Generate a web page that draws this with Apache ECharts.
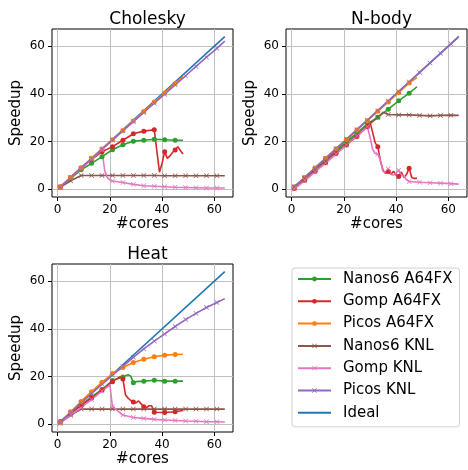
<!DOCTYPE html>
<html>
<head>
    <meta charset="UTF-8">
    <title>Speedup</title>
    <style>
        * {
            margin: 0;
            padding: 0
        }

        #chart {
            width: 468px;
            height: 470px;
        }
    </style>
</head>
<body>
<div id="chart"></div>
<script type="text/javascript" src="https://cdn.jsdelivr.net/npm/echarts@6/dist/echarts.min.js"></script>
<script type="text/javascript">
    // series names, legend order
    var names = ['Nanos6 A64FX', 'Gomp A64FX', 'Picos A64FX', 'Nanos6 KNL', 'Gomp KNL', 'Picos KNL', 'Ideal'];
    var panelTitles = ['Cholesky', 'N-body', 'Heat'];
    var tickValues = [0, 20, 40, 60];

    // [cores, speedup]
    var ideal = [[1, 1], [64, 64]];

    // Cholesky
    var chNanosA = [[1, 1], [5, 4.6], [9, 8.2], [13, 10.9], [17, 13.7], [21, 16.6], [25, 18.7], [29, 20.2], [33, 20.6], [37, 21], [41, 20.8], [45, 20.6], [48, 20.6]];
    var chGompA = [[1, 1], [5, 5], [9, 9], [13, 12.5], [17, 15.8], [21, 17.9], [25, 20.6], [29, 23.3], [33, 24.4], [37, 25], [38, 16], [39, 7.2], [40, 11], [41, 15.8], [42, 13], [43, 14], [44, 15.5], [45, 16.5], [46, 17.9], [47, 16.3], [48, 14.8]];
    var chPicosA = [[1, 1], [5, 5], [9, 9], [13, 13], [17, 16.9], [21, 20.8], [25, 24.7], [29, 28.7], [33, 32.6], [37, 36.6], [41, 40.4], [45, 44.4], [48, 47.2]];
    var chNanosK = [[1, 0.9], [5, 3.6], [9, 5.8], [13, 5.8], [17, 5.8], [21, 5.8], [25, 5.8], [29, 5.8], [33, 5.8], [37, 5.8], [41, 5.7], [45, 5.7], [49, 5.7], [53, 5.7], [57, 5.7], [61, 5.7], [64, 5.7]];
    var chGompK = [[1, 1], [5, 4.9], [9, 8.8], [13, 12.6], [17, 16.5], [18, 8], [19, 5], [20, 4], [21, 3.5], [25, 2.9], [29, 2.1], [33, 1.5], [37, 1.3], [41, 1.1], [45, 0.9], [49, 0.8], [53, 0.7], [57, 0.6], [61, 0.6], [64, 0.6]];
    var chPicosK = [[1, 1], [5, 5], [9, 9], [13, 12.9], [17, 16.8], [21, 20.6], [25, 24.5], [29, 28.4], [33, 32.2], [37, 36.1], [41, 39.9], [45, 43.8], [49, 47.6], [53, 51.5], [57, 55.4], [61, 59.1], [64, 62.1]];

    // N-body
    var nbNanosA = [[1, 1], [5, 4.8], [9, 8.6], [13, 12.4], [17, 16.2], [21, 20], [25, 23.7], [29, 27.4], [33, 30.2], [37, 33.6], [41, 37.1], [45, 40.3], [48, 43]];
    var nbGompA = [[1, 0.4], [5, 3.8], [9, 7.6], [13, 11.2], [17, 15], [21, 18.6], [25, 22.2], [29, 26.3], [30, 28.3], [31, 24], [32, 19.5], [33, 17.9], [34, 12], [35, 8], [36, 6.7], [37, 7.5], [38, 6.2], [39, 7.6], [40, 6], [41, 5.4], [42, 7.2], [43, 5], [44, 6.3], [45, 8.9], [46, 5], [47, 4.6], [48, 4.6]];
    var nbPicosA = [[1, 1], [5, 5], [9, 9], [13, 13], [17, 17], [21, 20.9], [25, 24.9], [29, 28.8], [33, 32.7], [37, 36.6], [41, 40.5], [45, 44.6], [48, 46.8]];
    var nbNanosK = [[1, 1], [5, 4.6], [9, 8.3], [13, 12], [17, 15.6], [21, 19.2], [25, 22.9], [29, 26.6], [33, 30.2], [35, 32.3], [37, 31.4], [41, 31.2], [45, 31.2], [49, 31], [53, 30.8], [57, 31], [61, 31.1], [64, 31]];
    var nbGompK = [[1, 0.2], [5, 3.6], [9, 7.4], [13, 11], [17, 14.8], [21, 18.6], [25, 22.4], [29, 26.2], [30, 22], [31, 16.8], [32, 15], [33, 14.8], [34, 12], [35, 7.5], [36, 7.2], [37, 8.6], [38, 6.2], [39, 6], [40, 6.8], [41, 8], [42, 6], [43, 5.5], [44, 4], [45, 3.3], [49, 3], [53, 2.8], [57, 2.6], [61, 2.4], [64, 2.2]];
    var nbPicosK = [[1, 1], [5, 5], [9, 9], [13, 13], [17, 17], [21, 21], [25, 25], [29, 29], [33, 33], [37, 37], [41, 41], [45, 45], [49, 49], [53, 53], [57, 57], [61, 61], [64, 64]];

    // Heat
    var htNanosA = [[1, 1.2], [5, 5], [9, 8.2], [13, 11.5], [17, 14.6], [21, 18.4], [25, 19.9], [26, 20.4], [27, 20.8], [28, 20.2], [29, 17.4], [30, 17.9], [33, 18.1], [37, 18.5], [41, 18.1], [45, 18.1], [48, 18.1]];
    var htGompA = [[1, 0.8], [5, 4.5], [9, 8], [13, 11], [17, 14.4], [21, 17.9], [24, 20], [25, 19], [26, 12.3], [27, 11], [28, 10], [29, 9.4], [30, 9], [31, 9.8], [32, 8.6], [33, 7.4], [34, 7], [35, 7.8], [36, 7.8], [37, 5.1], [41, 5], [45, 5.3], [48, 5.8]];
    var htPicosA = [[1, 0.8], [5, 5.3], [9, 9.6], [13, 13.7], [17, 17.6], [21, 21.3], [25, 23.8], [29, 25.9], [33, 27.3], [37, 28.3], [41, 29], [45, 29.3], [48, 29.4]];
    var htNanosK = [[1, 0.6], [5, 3.8], [9, 6.4], [13, 6.4], [17, 6.4], [21, 6.4], [25, 6.4], [29, 6.4], [33, 6.4], [37, 6.4], [41, 6.4], [45, 6.4], [49, 6.4], [53, 6.4], [57, 6.4], [61, 6.4], [64, 6.4]];
    var htGompK = [[1, 0.5], [5, 3.9], [9, 7], [13, 10.4], [17, 14], [20, 16.5], [21, 7.4], [25, 3.9], [29, 2.9], [33, 2.5], [37, 2.1], [41, 1.8], [45, 1.6], [49, 1.4], [53, 1.3], [57, 1.1], [61, 1.1], [64, 1]];
    var htPicosK = [[1, 1], [5, 5], [9, 9], [13, 12.9], [17, 16.8], [21, 20.6], [25, 24.3], [29, 28.1], [33, 31.6], [37, 34.9], [41, 37.9], [45, 41], [49, 43.9], [53, 46.5], [57, 49], [61, 51.1], [64, 52.7]];

    var panelData = [
        [chNanosA, chGompA, chPicosA, chNanosK, chGompK, chPicosK, ideal],
        [nbNanosA, nbGompA, nbPicosA, nbNanosK, nbGompK, nbPicosK, ideal],
        [htNanosA, htGompA, htPicosA, htNanosK, htGompK, htPicosK, ideal]
    ];

    // matplotlib tab10
    var colors = ['#2ca02c', '#d62728', '#ff7f0e', '#8c564b', '#e377c2', '#9467bd', '#1f77b4'];
    var xMark = 'path://M0,1L1,0L5,4L9,0L10,1L6,5L10,9L9,10L5,6L1,10L0,9L4,5Z';
    var markers = ['circle', 'circle', 'circle', xMark, xMark, xMark, 'none'];

    // axes boxes
    var boxes = [
        {left: 52, top: 29},
        {left: 286, top: 29},
        {left: 52, top: 264}
    ];
    var boxW = 181, boxH = 168;
    var font = 'DejaVu Sans';

    var grids = [], xAxes = [], yAxes = [], titles = [], series = [];

    boxes.forEach(function (b, g) {
        grids.push({
            left: b.left, top: b.top, width: boxW, height: boxH,
            show: true, borderColor: '#000', borderWidth: 1, backgroundColor: 'transparent'
        });
        titles.push({
            text: panelTitles[g],
            left: b.left + boxW / 2,
            top: b.top - 23,
            textAlign: 'center',
            textStyle: {fontFamily: font, fontSize: 17, fontWeight: 'normal', color: '#000'}
        });
        xAxes.push({
            type: 'value', gridIndex: g, min: -2.15, max: 67.15,
            name: '#cores', nameLocation: 'middle', nameGap: 20,
            nameTextStyle: {fontFamily: font, fontSize: 15, color: '#000'},
            axisLine: {show: false, onZero: false},
            axisTick: {show: true, length: 4, customValues: tickValues, lineStyle: {color: '#000'}},
            axisLabel: {customValues: tickValues, fontFamily: font, fontSize: 12, color: '#000', margin: 7},
            splitLine: {show: true, lineStyle: {color: '#c0c0c0', width: 1}}
        });
        yAxes.push({
            type: 'value', gridIndex: g, min: -3.2, max: 67.2,
            name: 'Speedup', nameLocation: 'middle', nameGap: 28,
            nameTextStyle: {fontFamily: font, fontSize: 15, color: '#000'},
            axisLine: {show: false, onZero: false},
            axisTick: {show: true, length: 4, customValues: tickValues, lineStyle: {color: '#000'}},
            axisLabel: {customValues: tickValues, fontFamily: font, fontSize: 12, color: '#000', margin: 7},
            splitLine: {show: true, lineStyle: {color: '#c0c0c0', width: 1}}
        });

        // ideal drawn first so the others sit on top
        var order = [6, 0, 1, 2, 3, 4, 5];
        order.forEach(function (s) {
            var sym = markers[s];
            series.push({
                name: names[s],
                type: 'line',
                xAxisIndex: g,
                yAxisIndex: g,
                symbol: sym,
                symbolSize: 5,
                showSymbol: sym !== 'none',
                color: colors[s],
                lineStyle: {width: 1.6, color: colors[s]},
                itemStyle: {color: colors[s]},
                emphasis: {disabled: true},
                data: panelData[g][s].map(function (p) {
                    return {value: p, symbol: (p[0] - 1) % 4 === 0 ? sym : 'none'};
                })
            });
        });
    });

    var myChart = echarts.init(document.getElementById('chart'));
    myChart.setOption({
        animation: false,
        textStyle: {fontFamily: font},
        title: titles,
        grid: grids,
        xAxis: xAxes,
        yAxis: yAxes,
        legend: {
            data: names.map(function (n) {
                return n === 'Ideal' ? {name: n, itemStyle: {opacity: 0}} : n;
            }),
            orient: 'vertical',
            left: 292,
            top: 268,
            itemWidth: 33,
            itemHeight: 6,
            itemGap: 6.3,
            padding: [3, 7, 6, 5],
            borderColor: '#d0d0d0',
            borderWidth: 1,
            borderRadius: 3,
            selectedMode: false,
            textStyle: {fontFamily: font, fontSize: 15, lineHeight: 16, color: '#000', padding: [0, 0, 0, 7]}
        },
        series: series
    });
</script>
</body>
</html>
